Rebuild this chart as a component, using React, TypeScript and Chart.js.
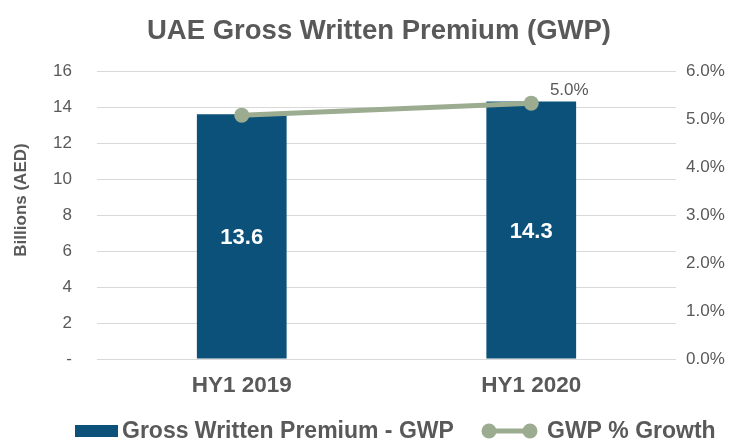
import React, { useEffect, useRef } from "react";
import { Chart, registerables } from "chart.js";

Chart.register(...registerables);

const categories = ["HY1 2019", "HY1 2020"];
const gwpValues = [13.6, 14.3];
const growthValues = [5.08, 5.33];
const growthLabels = ["", "5.0%"];
const seriesNames = ["Gross Written Premium - GWP", "GWP % Growth"];
const chartTitle = "UAE Gross Written Premium (GWP)";
const leftAxisTitle = "Billions (AED)";
const leftMax = 16;
const leftStep = 2;
const rightMax = 6;
const rightStep = 1;

const FONT = "'Liberation Sans', Arial, sans-serif";
const TEXT = "#595959";
const BAR = "#0b5179";
const LINE = "#9bac90";

const valueLabels = {
  id: "valueLabels",
  afterDatasetsDraw(chart: any) {
    const ctx = chart.ctx;
    ctx.save();
    ctx.textAlign = "center";
    ctx.textBaseline = "middle";
    ctx.font = `bold 22px ${FONT}`;
    ctx.fillStyle = "#ffffff";
    chart.getDatasetMeta(0).data.forEach((bar: any, i: number) => {
      const p = bar.getProps(["x", "y", "base"], true);
      ctx.fillText(gwpValues[i].toFixed(1), p.x, (p.y + p.base) / 2 + 2);
    });
    ctx.font = `17px ${FONT}`;
    ctx.fillStyle = TEXT;
    chart.getDatasetMeta(1).data.forEach((pt: any, i: number) => {
      if (growthLabels[i]) ctx.fillText(growthLabels[i], pt.x + 38, pt.y - 13);
    });
    ctx.restore();
  },
};

const titles = {
  id: "titles",
  afterDraw(chart: any) {
    const ctx = chart.ctx;
    ctx.save();
    ctx.fillStyle = TEXT;
    ctx.textAlign = "center";
    ctx.textBaseline = "middle";
    ctx.font = `bold 27.5px ${FONT}`;
    ctx.fillText(chartTitle, 379, 31);
    ctx.translate(21, 200);
    ctx.rotate(-Math.PI / 2);
    ctx.font = `bold 17px ${FONT}`;
    ctx.fillText(leftAxisTitle, 0, 0);
    ctx.restore();
  },
};

const customLegend = {
  id: "customLegend",
  afterDraw(chart: any) {
    const ctx = chart.ctx;
    const ds = chart.data.datasets;
    const cy = 431;
    ctx.save();
    ctx.font = `bold 23px ${FONT}`;
    ctx.textAlign = "left";
    ctx.textBaseline = "middle";
    ctx.fillStyle = ds[0].backgroundColor;
    ctx.fillRect(75, cy - 6, 43, 12);
    ctx.fillStyle = TEXT;
    ctx.fillText(ds[0].label, 122, cy + 1);
    const x = 482;
    ctx.strokeStyle = ds[1].borderColor;
    ctx.lineWidth = 5;
    ctx.beginPath();
    ctx.moveTo(x + 7, cy);
    ctx.lineTo(x + 48, cy);
    ctx.stroke();
    ctx.fillStyle = ds[1].borderColor;
    [x + 7, x + 48].forEach((cx) => {
      ctx.beginPath();
      ctx.arc(cx, cy, 7.5, 0, Math.PI * 2);
      ctx.fill();
    });
    ctx.fillStyle = TEXT;
    ctx.fillText(ds[1].label, 547, cy + 1);
    ctx.restore();
  },
};

export default function App() {
  const ref = useRef<HTMLCanvasElement | null>(null);
  useEffect(() => {
    document.body.style.margin = "0";
    Chart.defaults.font.family = FONT;
    const chart = new Chart(ref.current as HTMLCanvasElement, {
      data: {
        labels: categories,
        datasets: [
          {
            type: "bar",
            label: seriesNames[0],
            data: gwpValues,
            backgroundColor: BAR,
            barPercentage: 0.31,
            categoryPercentage: 1,
            yAxisID: "y",
            order: 1,
          },
          {
            type: "line",
            label: seriesNames[1],
            data: growthValues,
            borderColor: LINE,
            backgroundColor: LINE,
            borderWidth: 5,
            pointRadius: 7.5,
            pointBackgroundColor: LINE,
            pointBorderWidth: 0,
            yAxisID: "y1",
            order: 0,
          },
        ] as any,
      },
      options: {
        animation: false,
        responsive: false,
        maintainAspectRatio: false,
        layout: { padding: { left: 0, right: 0, top: 71, bottom: 46 } },
        plugins: {
          legend: { display: false },
          tooltip: { enabled: false },
          title: { display: false },
        },
        scales: {
          x: {
            grid: { display: false, drawTicks: false },
            border: { display: false },
            ticks: { color: TEXT, font: { size: 22.5, weight: "bold" }, padding: 13 },
            afterFit(s: any) {
              s.height = 36;
            },
          },
          y: {
            position: "left",
            min: 0,
            max: leftMax,
            ticks: {
              stepSize: leftStep,
              color: TEXT,
              font: { size: 17 },
              padding: 25,
              callback: (v: any) => (v === 0 ? "-" : String(v)),
            },
            grid: { color: "#d9d9d9", lineWidth: 1, drawTicks: false },
            border: { display: false },
            afterFit(s: any) {
              s.width = 97;
            },
          },
          y1: {
            position: "right",
            min: 0,
            max: rightMax,
            ticks: {
              stepSize: rightStep,
              color: TEXT,
              font: { size: 17 },
              padding: 10,
              callback: (v: any) => Number(v).toFixed(1) + "%",
            },
            grid: { display: false, drawTicks: false },
            border: { display: false },
            afterFit(s: any) {
              s.width = 56;
            },
          },
        },
      } as any,
      plugins: [valueLabels, titles, customLegend],
    });
    return () => chart.destroy();
  }, []);
  return (
    <div style={{ width: 732, height: 441 }}>
      <canvas ref={ref} width={732} height={441} style={{ display: "block" }} />
    </div>
  );
}
